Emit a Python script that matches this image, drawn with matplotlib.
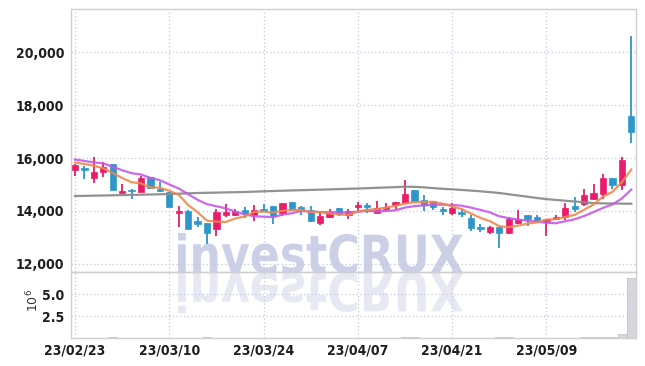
import numpy as np
import pandas as pd
import matplotlib
matplotlib.use("Agg")
import matplotlib.pyplot as plt
from matplotlib import font_manager as fm
from matplotlib.textpath import TextPath
from matplotlib.patches import PathPatch
from matplotlib.font_manager import FontProperties
from matplotlib.transforms import Affine2D
from matplotlib.ticker import FuncFormatter, FixedLocator

# ---------------- data ----------------
dates = [
    "2023-02-23", "2023-02-24", "2023-02-27", "2023-02-28",
    "2023-03-02", "2023-03-03", "2023-03-06", "2023-03-07", "2023-03-08", "2023-03-09",
    "2023-03-10", "2023-03-13", "2023-03-14", "2023-03-15", "2023-03-16", "2023-03-17",
    "2023-03-20", "2023-03-21", "2023-03-22", "2023-03-23", "2023-03-24", "2023-03-27",
    "2023-03-28", "2023-03-29", "2023-03-30", "2023-03-31",
    "2023-04-03", "2023-04-04", "2023-04-05", "2023-04-06", "2023-04-07", "2023-04-10",
    "2023-04-11", "2023-04-12", "2023-04-13", "2023-04-14", "2023-04-17", "2023-04-18",
    "2023-04-19", "2023-04-20", "2023-04-21", "2023-04-24", "2023-04-25", "2023-04-26",
    "2023-04-27", "2023-04-28",
    "2023-05-02", "2023-05-03", "2023-05-04", "2023-05-08", "2023-05-09", "2023-05-10",
    "2023-05-11", "2023-05-12", "2023-05-15", "2023-05-16", "2023-05-17", "2023-05-18",
    "2023-05-19", "2023-05-22",
]

opens = [15546, 15620, 15233, 15459, 15772, 14690, 14792, 14735, 15270, 14810,
         14705, 13936, 14011, 13634, 13536, 13333, 13861, 13838, 14026, 13838,
         14075, 14188, 13936, 14328, 14139, 14038, 13559, 13786, 14113, 13838,
         14139, 14238, 13936, 14087, 14238, 14313, 14792, 14415, 14366, 14087,
         13912, 13951, 13737, 13408, 13197, 13386, 13159, 13536, 13838, 13763,
         13612, 13687, 13786, 14188, 14264, 14464, 14653, 15244, 14991, 17581]
highs = [15760, 15710, 16047, 15836, 15790, 15006, 14830, 15331, 15290, 15105,
         14715, 14188, 14020, 13774, 13545, 14064, 14253, 14064, 14162, 14226,
         14264, 14195, 14300, 14335, 14188, 14188, 13912, 14064, 14120, 14064,
         14340, 14313, 14388, 14290, 14350, 15169, 14795, 14592, 14370, 14162,
         14313, 14064, 13849, 13510, 13446, 13390, 13763, 14038, 13850, 13838,
         13690, 13838, 14290, 14516, 14818, 15006, 15395, 15250, 16047, 20597]
lows = [15320, 15206, 15044, 15270, 14790, 14680, 14452, 14720, 14818, 14735,
        14150, 13408, 13330, 13385, 12756, 13058, 13763, 13812, 13725, 13634,
        13962, 13510, 13812, 14011, 13838, 13585, 13461, 13737, 13812, 13687,
        13989, 13912, 13912, 13989, 14064, 14290, 14340, 14011, 14038, 13838,
        13861, 13786, 13258, 13197, 13133, 12594, 13150, 13510, 13434, 13585,
        13058, 13680, 13661, 13962, 14188, 14415, 14441, 14841, 14792, 16575]
closes = [15734, 15545, 15459, 15659, 14803, 14754, 14754, 15256, 14878, 14770,
          14162, 14000, 13333, 13521, 13159, 13962, 13962, 13989, 13887, 14038,
          14000, 13812, 14290, 14064, 14038, 13634, 13812, 13962, 13887, 13989,
          14238, 14139, 14113, 14162, 14340, 14641, 14388, 14215, 14139, 14011,
          14113, 13887, 13371, 13321, 13397, 13159, 13687, 13687, 13687, 13634,
          13687, 13763, 14102, 14087, 14603, 14678, 15244, 14991, 15923, 16990]
volumes = [42000, 38000, 51000, 47000, 150000, 44000, 39000, 52000, 41000, 36000,
           48000, 55000, 46000, 40000, 57000, 49000, 37000, 33000, 35000, 38000,
           34000, 41000, 45000, 36000, 32000, 43000, 39000, 35000, 33000, 37000,
           42000, 36000, 44000, 38000, 47000, 130000, 62000, 48000, 39000, 35000,
           41000, 37000, 52000, 43000, 38000, 58000, 61000, 45000, 39000, 36000,
           40000, 38000, 55000, 47000, 72000, 90000, 160000, 140000, 450000, 6800000]
# closes of the nine sessions before the window (for the moving averages)
prior_closes = [16100, 16000, 16050, 16080, 16040, 15865, 15769, 16159, 15653]
# 60-day moving average as drawn
ma60 = [14566, 14572, 14579, 14585, 14592, 14600, 14608, 14615, 14623, 14632,
        14641, 14654, 14666, 14679, 14687, 14694, 14702, 14710, 14717, 14730,
        14742, 14754, 14766, 14776, 14785, 14795, 14804, 14815, 14826, 14838,
        14849, 14862, 14875, 14888, 14900, 14918, 14910, 14892, 14865, 14838,
        14818, 14795, 14770, 14745, 14712, 14679, 14632, 14585, 14540, 14490,
        14450, 14418, 14388, 14358, 14330, 14298, 14288, 14282, 14278, 14275]
tick_dates = ["2023-02-23", "2023-03-10", "2023-03-24", "2023-04-07", "2023-04-21", "2023-05-09"]
price_ticks = [12000, 14000, 16000, 18000, 20000]
volume_ticks = [2.5e6, 5.0e6]

# ---------------- style ----------------
UP = "#e81d6b"
DOWN = "#2f96c9"
GRID = "#c3c7dd"
SPINE = "#cfcfd4"
W, H = 645, 366


def pick_narrow_font():
    prefs = []
    for f in fm.fontManager.ttflist:
        fn = f.fname.lower()
        narrow = ("narrow" in fn or "condensed" in fn or "narrow" in f.name.lower()
                  or f.stretch in ("condensed", "semi-condensed", "extra-condensed"))
        if not narrow:
            continue
        w = f.weight if isinstance(f.weight, int) else {"bold": 700, "normal": 400}.get(f.weight, 400)
        if "italic" in fn or "oblique" in fn or f.style != "normal":
            continue
        score = abs(w - 700)
        prefs.append((score, f.fname))
    prefs.sort()
    return prefs[0][1] if prefs else None


narrow_path = pick_narrow_font()
if narrow_path:
    LABEL_FP = FontProperties(fname=narrow_path, size=10)
else:
    LABEL_FP = FontProperties(family="DejaVu Sans", weight="bold", size=9)

fig = plt.figure(figsize=(W / 100, H / 100), dpi=100)
fig.patch.set_facecolor("white")


def watermark(text, x0, x1, y_top, y_base, color, flip=False, zorder=-5):
    fp = FontProperties(family="DejaVu Sans", weight="bold")
    tp = TextPath((0, 0), text, size=1, prop=fp)
    ext = tp.get_extents()
    sx = (x1 - x0) / ext.width
    sy = (y_base - y_top) / ext.y1
    if flip:
        sy = -sy
    tr = Affine2D().translate(-ext.x0, 0).scale(sx, sy).translate(x0, H - y_base)
    p = PathPatch(tp, transform=tr, facecolor=color, edgecolor="none", zorder=zorder)
    fig.add_artist(p)


watermark("investCRUX", 178, 463, 233, 273, "#cbd0e6")
watermark("investCRUX", 178, 463, 233, 273, "#e7e9f2", flip=True)

ax = fig.add_axes([71 / W, (H - 272) / H, 565 / W, 263 / H])
axv = fig.add_axes([71 / W, (H - 338) / H, 565 / W, 66 / H], sharex=ax)
for a in (ax, axv):
    a.set_facecolor("none")
    for s in a.spines.values():
        s.set_color(SPINE)
        s.set_linewidth(1.0)

x = np.arange(len(closes))
o = np.array(opens, float)
c = np.array(closes, float)
hi = np.array(highs, float)
lo = np.array(lows, float)
up = c >= o
colors = np.where(up, UP, DOWN)

# wicks
ax.vlines(x, lo, hi, colors=colors, linewidth=1.3, zorder=3)
# bodies
body_bottom = np.minimum(o, c)
body_h = np.maximum(np.abs(c - o), 45)
ax.bar(x, body_h, bottom=body_bottom, width=0.66, color=colors, edgecolor=colors,
       linewidth=0.5, zorder=4)

# moving averages
allc = pd.Series(prior_closes + closes, dtype=float)
ma5 = allc.rolling(5).mean().iloc[len(prior_closes):].to_numpy()
ma10 = allc.rolling(10).mean().iloc[len(prior_closes):].to_numpy()
ax.plot(x, ma60, color="#8c8c8c", linewidth=1.6, zorder=5, alpha=0.95)
ax.plot(x, ma10, color="#c45ae6", linewidth=1.6, zorder=6, alpha=0.9)
ax.plot(x, ma5, color="#f0884e", linewidth=1.6, zorder=7, alpha=0.9)

ax.set_ylim(11698, 21623)
ax.set_xlim(-0.42, 59.5)
ax.yaxis.set_major_locator(FixedLocator(price_ticks))
ax.yaxis.set_major_formatter(FuncFormatter(lambda v, p: f"{int(v):,}"))

# volume
axv.bar(x, volumes, width=0.9, color="#d6d6dc", edgecolor="#c4c4cc", linewidth=0.6, zorder=3)
axv.set_ylim(0, 7.5e6)
axv.yaxis.set_major_locator(FixedLocator(volume_ticks))
axv.yaxis.set_major_formatter(FuncFormatter(lambda v, p: f"{v / 1e6:.1f}"))

tick_pos = [dates.index(d) for d in tick_dates]
tick_lab = [pd.Timestamp(d).strftime("%y/%m/%d") for d in tick_dates]
axv.xaxis.set_major_locator(FixedLocator(tick_pos))
axv.set_xticklabels(tick_lab)

for a in (ax, axv):
    a.grid(True, color=GRID, linestyle=(0, (1, 2)), linewidth=0.9, zorder=0)
    a.set_axisbelow(True)
    a.tick_params(length=0, pad=5, labelcolor="#1e1e1e")
    for lab in a.get_yticklabels() + a.get_xticklabels():
        lab.set_fontproperties(LABEL_FP)
axv.tick_params(axis="x", pad=4)
ax.tick_params(labelbottom=False)

fig.text(33 / W, 1 - 300 / H, r"$10^6$", rotation=90, ha="center", va="center",
         fontsize=9, color="#333333")

fig.savefig("out.png", dpi=100, facecolor="white")
